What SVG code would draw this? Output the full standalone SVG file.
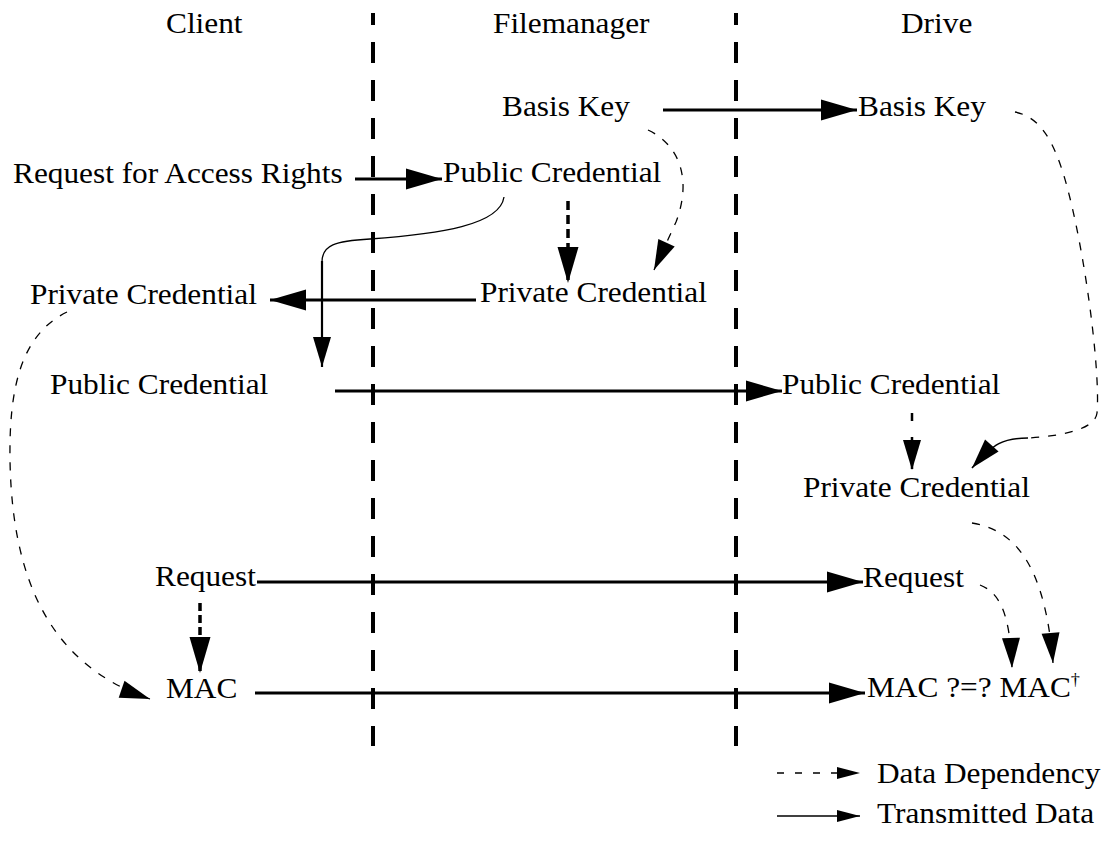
<svg xmlns="http://www.w3.org/2000/svg" width="1112" height="845" viewBox="0 0 1112 845">
<style>
.t{font-family:"Liberation Serif","Times New Roman",serif;font-size:29px;fill:#000}
.lane{stroke:#000;stroke-width:4;stroke-dasharray:21 17;stroke-dashoffset:9;fill:none}
.tx{stroke:#000;stroke-width:3;fill:none}
.thin{stroke:#000;stroke-width:1.3;fill:none}
.dep{stroke:#000;stroke-width:1.3;fill:none;stroke-dasharray:8 9}
.depthick{stroke:#000;stroke-width:3.5;fill:none;stroke-dasharray:9 5}
</style>
<defs>
<marker id="ah" markerUnits="userSpaceOnUse" markerWidth="36" markerHeight="21" refX="36" refY="10.5" orient="auto" overflow="visible"><path d="M0,0 L36,10.5 L0,21 z" fill="#000"/></marker>
<marker id="ahm" markerUnits="userSpaceOnUse" markerWidth="30" markerHeight="18" refX="30" refY="9" orient="auto" overflow="visible"><path d="M0,0 L30,9 L0,18 z" fill="#000"/></marker>
<marker id="ahs" markerUnits="userSpaceOnUse" markerWidth="23" markerHeight="12" refX="23" refY="6" orient="auto" overflow="visible"><path d="M0,0 L23,6 L0,12 z" fill="#000"/></marker>
</defs>
<rect width="1112" height="845" fill="#fff"/>
<g id="lanes">
<path class="lane" d="M373 13 V746"/>
<path class="lane" d="M736 13 V746"/>
</g>
<g id="headers">
<text class="t" transform="translate(166,33) scale(1.08,1)">Client</text>
<text class="t" transform="translate(493,33) scale(1.08,1)">Filemanager</text>
<text class="t" transform="translate(901,33) scale(1.08,1)">Drive</text>
</g>
<g id="connectors">
<path class="tx" d="M663 110 H857" marker-end="url(#ah)"/>
<path class="tx" d="M355 179 H442" marker-end="url(#ah)"/>
<path class="dep" d="M648 130 C680 145 692 180 676 222 L654 270" marker-end="url(#ahm)"/>
<path class="depthick" d="M568 201 V283" marker-end="url(#ah)"/>
<path class="tx" d="M476 300 H270" marker-end="url(#ah)"/>
<path class="thin" d="M504 197 C500 225 440 234 370 239 C335 241 322 245 322 262"/>
<path class="tx" stroke-width="2.2" style="stroke-width:2.2" d="M322 261 V367" marker-end="url(#ahm)"/>
<path class="tx" d="M335 391 H782" marker-end="url(#ah)"/>
<path class="depthick" style="stroke-width:2.5;stroke-dasharray:8 16" d="M912 413 V470" marker-end="url(#ahm)"/>
<path class="dep" d="M1015 112 C1045 118 1060 150 1075 220 C1090 290 1100 380 1097 413 C1095 430 1060 436 1028 438"/>
<path class="thin" style="stroke-width:1.6" d="M1028 438 C1003 438 994 443 972 468" marker-end="url(#ahm)"/>
<path class="tx" d="M257 582 H863" marker-end="url(#ah)"/>
<path class="depthick" style="stroke-dasharray:8 4" d="M200 603 V673" marker-end="url(#ah)"/>
<path class="tx" d="M255 693 H865" marker-end="url(#ah)"/>
<path class="dep" d="M67 312 C20 335 9 390 10 460 C12 580 50 665 150 699" marker-end="url(#ahm)"/>
<path class="dep" d="M980 585 C998 592 1010 610 1012 668" marker-end="url(#ahm)"/>
<path class="dep" d="M972 523 C1015 530 1045 565 1053 663" marker-end="url(#ahm)"/>
</g>
<g id="fm-basis-key"><text class="t" transform="translate(502,116) scale(1.08,1)">Basis Key</text></g>
<g id="drive-basis-key"><text class="t" transform="translate(858,116) scale(1.08,1)">Basis Key</text></g>
<g id="client-request-access"><text class="t" transform="translate(13,183) scale(1.08,1)">Request for Access Rights</text></g>
<g id="fm-public-credential"><text class="t" transform="translate(443,182) scale(1.08,1)">Public Credential</text></g>
<g id="client-private-credential"><text class="t" transform="translate(30,304) scale(1.08,1)">Private Credential</text></g>
<g id="fm-private-credential"><text class="t" transform="translate(480,302) scale(1.08,1)">Private Credential</text></g>
<g id="client-public-credential"><text class="t" transform="translate(50,394) scale(1.08,1)">Public Credential</text></g>
<g id="drive-public-credential"><text class="t" transform="translate(782,394) scale(1.08,1)">Public Credential</text></g>
<g id="drive-private-credential"><text class="t" transform="translate(803,497) scale(1.08,1)">Private Credential</text></g>
<g id="client-request"><text class="t" transform="translate(155,586) scale(1.08,1)">Request</text></g>
<g id="drive-request"><text class="t" transform="translate(863,587) scale(1.08,1)">Request</text></g>
<g id="client-mac"><text class="t" transform="translate(166,698) scale(1.08,1)">MAC</text></g>
<g id="drive-mac"><text class="t" transform="translate(867,697) scale(1.08,1)">MAC ?=? MAC<tspan font-size="17" dy="-12">†</tspan></text></g>
<g id="legend">
<path class="dep" style="stroke-dasharray:7 11" d="M777 773 H860" marker-end="url(#ahs)"/>
<text class="t" transform="translate(877,783) scale(1.08,1)">Data Dependency</text>
<path class="thin" style="stroke-width:1.5" d="M777 816 H860" marker-end="url(#ahs)"/>
<text class="t" transform="translate(877,823) scale(1.08,1)">Transmitted Data</text>
</g>
</svg>
